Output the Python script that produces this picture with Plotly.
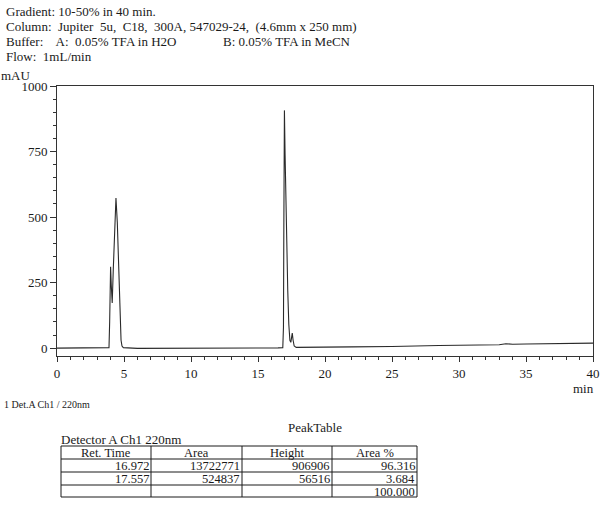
import plotly.graph_objects as go

# chromatogram trace (min, mAU)
time_min = [0, 1, 2, 3, 3.7, 3.88, 3.93, 3.97, 4.0, 4.05, 4.12, 4.2, 4.3, 4.4,
            4.5, 4.6, 4.65, 4.72, 4.78, 4.85, 4.95, 6, 8, 10, 12, 13, 14, 15,
            16, 16.5, 16.85, 16.9, 16.93, 16.972, 17.02, 17.08, 17.15, 17.22,
            17.3, 17.38, 17.45, 17.5, 17.557, 17.62, 17.7, 17.85, 18.5, 20,
            22, 25, 27.5, 28.5, 30, 31.5, 33, 33.5, 34, 35, 37, 40]
mau = [0, 0, 0, 0, 1, 2, 100, 230, 310, 240, 172, 300, 470, 573,
       480, 330, 260, 100, 30, 8, 2, -1, -1, -1, -1, 0, 1, 1,
       1, 1, 2, 80, 480, 907, 740, 560, 380, 220,
       90, 30, 22, 40, 57, 30, 8, 3, 3, 4,
       5, 6, 7, 10, 11, 11, 13, 17, 15, 16, 17, 19]

x_ticks = [0, 5, 10, 15, 20, 25, 30, 35, 40]
y_ticks = [0, 250, 500, 750, 1000]

header_lines = [
    "Gradient: 10-50% in 40 min.",
    "Column:\u00a0 Jupiter\u00a0 5u,\u00a0 C18,\u00a0 300A, 547029-24,\u00a0 (4.6mm x 250 mm)",
    "Buffer:\u00a0\u00a0\u00a0 A:\u00a0 0.05% TFA in H2O",
    "Flow:\u00a0 1mL/min",
]

# peak table
tbl_header = ["Ret. Time", "Area", "Height", "Area %"]
ret_time = ["16.972", "17.557", ""]
area = ["13722771", "524837", ""]
height = ["906906", "56516", ""]
area_pct = ["96.316", "3.684", "100.000"]

W, H = 600, 512
L, R, T, B = 57, 7, 86, 10
PW, PH = W - L - R, H - T - B


def px(x):
    return (x - L) / PW


def py(y):
    return (H - B - y) / PH


FONT = "Liberation Serif"
INK = "#1a1a1a"

fig = go.Figure()
fig.add_trace(go.Scatter(
    x=time_min, y=mau, mode="lines",
    line=dict(color="#2a2a2a", width=1.1),
    hoverinfo="skip", showlegend=False,
))

ann = []
for i, t in enumerate(header_lines):
    ann.append(dict(x=px(5), y=py(12 + 15 * i), text=t))
ann.append(dict(x=px(222), y=py(42), text="B: 0.05% TFA in MeCN"))
ann.append(dict(x=px(0), y=py(75), text="mAU"))
ann.append(dict(x=px(3), y=py(404), text="1 Det.A Ch1 / 220nm", size=10))
ann.append(dict(x=px(60), y=py(439), text="Detector A Ch1 220nm"))
ann.append(dict(x=px(315), y=py(427), text="PeakTable", xanchor="center"))
ann.append(dict(x=px(583), y=py(388), text="min", xanchor="center"))

# table grid: column edges and row edges in page pixels
col_x = [61, 151, 242, 332, 417]
row_y = [446, 459, 472, 485, 497]
shapes = []
for cx in col_x:
    shapes.append(dict(type="line", xref="paper", yref="paper",
                       x0=px(cx), x1=px(cx), y0=py(row_y[0]), y1=py(row_y[-1]),
                       line=dict(color=INK, width=1)))
for ry in row_y:
    shapes.append(dict(type="line", xref="paper", yref="paper",
                       x0=px(col_x[0]), x1=px(col_x[-1]), y0=py(ry), y1=py(ry),
                       line=dict(color=INK, width=1)))

for j, h in enumerate(tbl_header):
    ann.append(dict(x=px((col_x[j] + col_x[j + 1]) / 2), y=py((row_y[0] + row_y[1]) / 2 + 0.5),
                    text=h, xanchor="center", size=12.5))
for j, col in enumerate([ret_time, area, height, area_pct]):
    for i, v in enumerate(col):
        if v:
            ann.append(dict(x=px(col_x[j + 1] - 1), y=py((row_y[i + 1] + row_y[i + 2]) / 2 + 0.5),
                            text=v, xanchor="right", size=12.5))

annotations = [
    dict(x=a["x"], y=a["y"], xref="paper", yref="paper", text=a["text"],
         showarrow=False, xanchor=a.get("xanchor", "left"), yanchor="middle",
         borderpad=0,
         font=dict(family=FONT, size=a.get("size", 13), color=INK))
    for a in ann
]

fig.update_layout(
    width=W, height=H,
    margin=dict(l=L, r=R, t=T, b=B, autoexpand=False),
    plot_bgcolor="white", paper_bgcolor="white",
    font=dict(family=FONT, size=13, color=INK),
    showlegend=False,
    annotations=annotations,
    shapes=shapes,
    xaxis=dict(
        range=[0, 40], tickvals=x_ticks, showgrid=False, zeroline=False,
        showline=True, linecolor="#333", linewidth=1, mirror=True,
        ticks="outside", ticklen=5, tickcolor="#333",
        minor=dict(dtick=1, ticks="outside", ticklen=3, tickcolor="#333"),
        automargin=False,
    ),
    yaxis=dict(
        range=[-30, 1000], tickvals=y_ticks, showgrid=False, zeroline=False,
        domain=[py(356), 1],
        showline=True, linecolor="#333", linewidth=1, mirror=True,
        ticks="outside", ticklen=6, tickcolor="#333",
        minor=dict(dtick=50, ticks="outside", ticklen=3, tickcolor="#333"),
        automargin=False,
    ),
)

# page has a default body margin; drop it so the figure sits at the corner
fig.write_html("out.html", config={"displayModeBar": False},
               post_script="document.body.style.margin='0';")
